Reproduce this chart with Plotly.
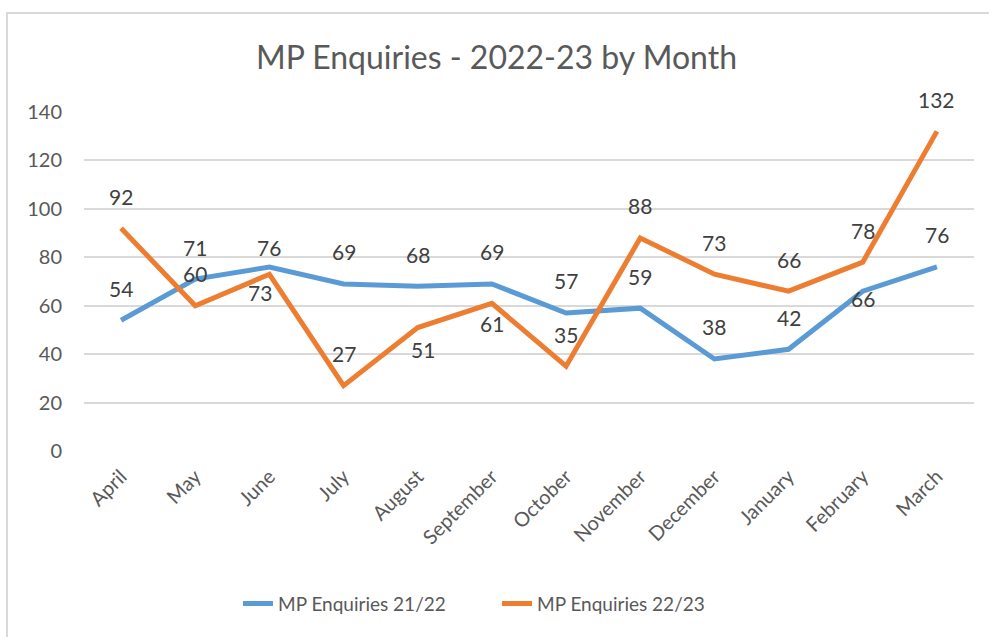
import plotly.graph_objects as go

months = ["April", "May", "June", "July", "August", "September", "October",
          "November", "December", "January", "February", "March"]
enq_2122 = [54, 71, 76, 69, 68, 69, 57, 59, 38, 42, 66, 76]
enq_2223 = [92, 60, 73, 27, 51, 61, 35, 88, 73, 66, 78, 132]

series_names = ["MP Enquiries 21/22", "MP Enquiries 22/23"]
y_ticks = [0, 20, 40, 60, 80, 100, 120, 140]

# label pixel offsets (style only)
shift_2122 = [32, 32, 19, 32, 32, 32, 32, 32, 32, 32, -7, 32]
shift_2223 = [32, 32, -18, 32, -22, -20, 32, 32, 32, 32, 32, 32]
xshift_2223 = [0, 0, -9, 0, 5, 0, 0, 0, 0, 0, 0, 0]

BLUE = "#5B9BD5"
ORANGE = "#ED7D31"
TXT = "#595959"
FONT = "Lato"

fig = go.Figure()
fig.add_trace(go.Scatter(x=months, y=enq_2122, mode="lines", name=series_names[0],
                         line=dict(color=BLUE, width=5)))
fig.add_trace(go.Scatter(x=months, y=enq_2223, mode="lines", name=series_names[1],
                         line=dict(color=ORANGE, width=5)))

anns = []
for m, v, s in zip(months, enq_2122, shift_2122):
    anns.append(dict(x=m, y=v, text=str(v), showarrow=False, yshift=s,
                     font=dict(family=FONT, size=21, color="#404040")))
for m, v, s, xs in zip(months, enq_2223, shift_2223, xshift_2223):
    anns.append(dict(x=m, y=v, text=str(v), showarrow=False, yshift=s, xshift=xs,
                     font=dict(family=FONT, size=21, color="#404040")))

fig.update_layout(
    width=989, height=637,
    margin=dict(l=84, r=15, t=112, b=186),
    paper_bgcolor="white", plot_bgcolor="white",
    title=dict(text="MP Enquiries - 2022-23 by Month", x=0.502, xanchor="center",
               y=0.91, yanchor="middle",
               font=dict(family=FONT, size=32, color=TXT)),
    font=dict(family=FONT, color=TXT),
    xaxis=dict(range=[-0.5, 11.5], tickangle=-45, showgrid=False, showline=False,
               zeroline=False, tickfont=dict(size=20, color=TXT), ticks="",
               ticklabelstandoff=9),
    yaxis=dict(range=[0, 140], tickvals=y_ticks, showgrid=True, gridcolor="#D9D9D9",
               gridwidth=1.5, zeroline=False, showline=False,
               tickfont=dict(size=20, color=TXT), ticklabelstandoff=21),
    legend=dict(orientation="h", x=(238 - 84) / 890, xanchor="left", y=-0.45,
                yanchor="middle", entrywidth=214, entrywidthmode="pixels",
                font=dict(family=FONT, size=19, color=TXT),
                traceorder="normal"),
    annotations=anns,
    shapes=[dict(type="rect", xref="paper", yref="paper",
                 x0=(7 - 84) / 890, x1=1.2, y0=-0.7, y1=(451 - 13) / 339,
                 line=dict(color="#D9D9D9", width=2), fillcolor="rgba(0,0,0,0)",
                 layer="below")],
)

fig.write_html("out.html", config={"displayModeBar": False},
               post_script="document.body.style.margin='0px';")
